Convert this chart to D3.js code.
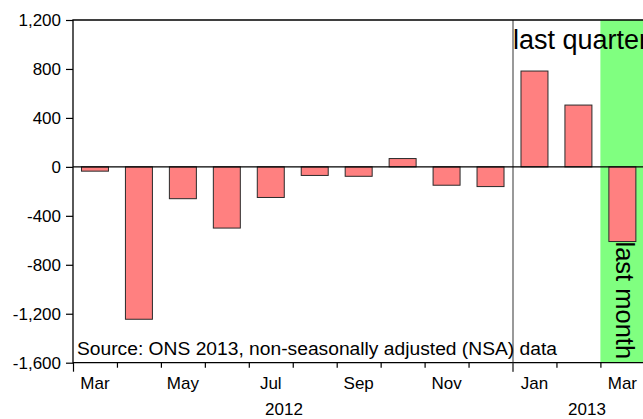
<!DOCTYPE html>
<html>
<head>
<meta charset="utf-8">
<script src="https://cdn.jsdelivr.net/npm/d3@7/dist/d3.min.js"></script>
<style>
  html, body { margin: 0; padding: 0; background: #fff; overflow: hidden; }
  svg { display: block; font-family: "Liberation Sans", Arial, sans-serif; }
</style>
</head>
<body>
<svg id="chart" width="643" height="419"></svg>
<script>
// ---- data ----
const periods = ["2012-03","2012-04","2012-05","2012-06","2012-07","2012-08","2012-09","2012-10","2012-11","2012-12","2013-01","2013-02","2013-03"];
const monthLabels = ["Mar","","May","","Jul","","Sep","","Nov","","Jan","","Mar"];
const values = [-35, -1245, -260, -500, -250, -70, -77, 68, -150, -161, 783, 505, -610];
const yTicks = [1200, 800, 400, 0, -400, -800, -1200, -1600];
const years = ["2012", "2013"];
const yearStartIndex = [0, 10];
const sourceNote = "Source: ONS 2013, non-seasonally adjusted (NSA) data";
const quarterLabel = "last quarter";
const monthNote = "last month";

(function () {
// ---- layout ----
const svg = d3.select("#chart");
const pLeft = 73, pTop = 20, pBottom = 362.7, step = 43.95;
const pRight = pLeft + step * periods.length;

const x = d3.scaleBand().domain(periods).range([pLeft, pRight]).paddingInner(0.386).paddingOuter(0.193);
const slot = d3.scaleBand().domain(periods).range([pLeft, pRight]).padding(0);
const y = d3.scaleLinear().domain([-1600, 1200]).range([pBottom, pTop]);
const fmt = d3.formatLocale({decimal: ".", thousands: ",", grouping: [3], currency: ["", ""], minus: "-"}).format(",");

// green band for last month
const lastP = periods[periods.length - 1];
svg.append("rect")
  .attr("x", slot(lastP)).attr("y", pTop)
  .attr("width", slot.bandwidth()).attr("height", pBottom - pTop)
  .attr("fill", "#80ff80");

// vertical divider at last quarter start
const qx = slot(periods[10]) + 0.5;
svg.append("line")
  .attr("x1", qx).attr("x2", qx).attr("y1", pTop).attr("y2", pBottom + 9)
  .attr("stroke", "#555").attr("stroke-width", 1.2);

// bars
svg.append("g").selectAll("rect").data(periods).join("rect")
  .attr("x", (d) => x(d))
  .attr("width", x.bandwidth())
  .attr("y", (d, i) => y(Math.max(0, values[i])))
  .attr("height", (d, i) => Math.abs(y(values[i]) - y(0)))
  .attr("fill", "#ff8080")
  .attr("stroke", "#2a2a2a")
  .attr("stroke-width", 1);

// zero line
svg.append("line")
  .attr("x1", pLeft).attr("x2", pRight).attr("y1", y(0)).attr("y2", y(0))
  .attr("stroke", "#000").attr("stroke-width", 1.3);

// frame: top, left, bottom
svg.append("path")
  .attr("d", `M${pRight},${pTop}H${pLeft}V${pBottom}H${pRight}`)
  .attr("fill", "none").attr("stroke", "#000").attr("stroke-width", 1.3);

// y axis
const yAxis = d3.axisLeft(y).tickValues(yTicks).tickFormat(fmt).tickSize(7).tickPadding(5);
const gy = svg.append("g").attr("transform", `translate(${pLeft},0)`).call(yAxis);
gy.select(".domain").remove();
gy.selectAll(".tick line").attr("stroke", "#000").attr("stroke-width", 1.2);
gy.selectAll(".tick text").attr("font-size", 17).attr("fill", "#000")
  .attr("font-family", "Liberation Sans, Arial, sans-serif");

// x axis ticks at month boundaries
const boundaries = periods.map((p) => slot(p));
svg.append("g").selectAll("line").data(boundaries).join("line")
  .attr("x1", (d) => d + 0.5).attr("x2", (d) => d + 0.5)
  .attr("y1", pBottom).attr("y2", (d, i) => (yearStartIndex.includes(i) ? pBottom + 9 : pBottom + 5))
  .attr("stroke", (d, i) => (i === 10 ? "#555" : "#000")).attr("stroke-width", 1.2);

// month labels
svg.append("g").selectAll("text").data(periods).join("text")
  .attr("x", (d) => slot(d) + slot.bandwidth() / 2)
  .attr("y", 389)
  .attr("text-anchor", "middle")
  .attr("font-size", 17)
  .text((d, i) => monthLabels[i]);

// year labels
const yearCenters = [284, 587];
svg.append("g").selectAll("text").data(years).join("text")
  .attr("x", (d, i) => yearCenters[i])
  .attr("y", 415)
  .attr("text-anchor", "middle")
  .attr("font-size", 17)
  .text((d) => d);

// source note
svg.append("text")
  .attr("x", 77).attr("y", 355)
  .attr("font-size", 17.5)
  .attr("textLength", 480)
  .attr("lengthAdjust", "spacingAndGlyphs")
  .text(sourceNote);

// last quarter label
svg.append("text")
  .attr("x", 513).attr("y", 48.5)
  .attr("font-size", 27)
  .text(quarterLabel);

// last month label, rotated
svg.append("text")
  .attr("transform", `translate(615.5,241.5) rotate(90)`)
  .attr("font-size", 25.5)
  .text(monthNote);
})();
</script>
</body>
</html>
